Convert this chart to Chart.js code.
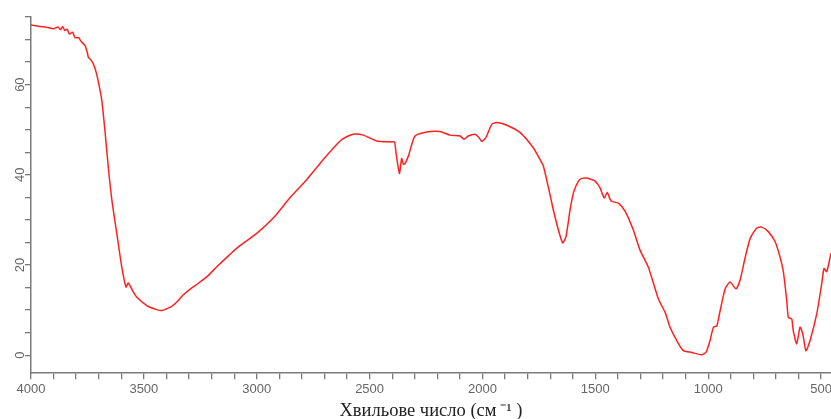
<!DOCTYPE html>
<html lang="uk">
<head>
<meta charset="UTF-8">
<title>ІЧ-спектр</title>
<script src="https://cdn.jsdelivr.net/npm/chart.js@4.4.1/dist/chart.umd.min.js"></script>
<style>
  body { margin: 0; background: #ffffff; }
  #grafico-ir { display: block; }
</style>
</head>
<body>
<canvas id="grafico-ir" width="831" height="419"></canvas>
<script>
//-------------------------- Дані --------------------------
const hvylovi = [
  4000, 3960, 3930, 3900, 3880, 3870, 3860, 3850, 3840, 3830, 3815, 3805, 3790, 3775, 3761, 3750,
  3746, 3735, 3724, 3710, 3700, 3687, 3672, 3658, 3642, 3620, 3598, 3579, 3569, 3550, 3532, 3487,
  3443, 3420, 3399, 3380, 3354, 3325, 3296, 3260, 3214, 3177, 3089, 3000, 2927, 2853, 2779, 2705,
  2631, 2600, 2572, 2528, 2468, 2410, 2390, 2383, 2368, 2358, 2350, 2343, 2328, 2299, 2247, 2188,
  2144, 2099, 2082, 2063, 2033, 2015, 2003, 1984, 1959, 1937, 1892, 1834, 1775, 1745, 1730, 1708,
  1686, 1664, 1650, 1644, 1630, 1612, 1597, 1575, 1560, 1538, 1520, 1501, 1479, 1461, 1447, 1435,
  1427, 1398, 1368, 1332, 1302, 1265, 1221, 1191, 1169, 1139, 1110, 1073, 1029, 1010, 992, 977,
  962, 947, 925, 903, 877, 859, 837, 814, 785, 763, 734, 704, 682, 667, 652, 645,
  630, 623, 608, 593, 581, 567, 549, 519, 497, 487, 475, 456
];

const propuskannia = [
  73.2, 72.9, 72.7, 72.4, 72.8, 72.2, 72.9, 72.0, 72.3, 71.2, 71.6, 70.4, 70.4, 69.4, 68.7, 67.0,
  66.1, 65.5, 64.6, 62.5, 60.2, 56.8, 49.6, 41.9, 34.5, 27.0, 19.6, 15.1, 16.0, 14.3, 12.9, 11.0,
  10.1, 9.9, 10.3, 10.7, 11.8, 13.4, 14.6, 15.9, 17.7, 19.6, 23.7, 27.0, 30.4, 34.9, 38.9, 43.4,
  47.5, 48.5, 49.0, 48.8, 47.5, 47.3, 47.3, 44.9, 40.3, 43.6, 42.3, 42.5, 44.2, 48.6, 49.5, 49.6,
  48.8, 48.6, 47.9, 48.6, 49.0, 48.2, 47.4, 48.3, 51.2, 51.6, 51.0, 49.4, 46.0, 43.4, 41.9, 37.2,
  32.2, 27.8, 25.5, 24.9, 26.3, 32.2, 36.0, 38.6, 39.2, 39.3, 39.0, 38.6, 37.1, 34.9, 36.1, 34.6,
  34.1, 33.7, 31.9, 27.8, 23.3, 19.5, 12.5, 9.5, 6.2, 3.2, 1.0, 0.6, 0.1, 0.6, 3.2, 6.2,
  6.5, 9.9, 14.7, 16.2, 14.7, 16.6, 21.5, 25.9, 28.2, 28.4, 27.4, 25.2, 21.8, 18.5, 12.1, 8.4,
  8.0, 5.4, 2.5, 6.2, 4.7, 1.0, 3.2, 9.2, 15.9, 19.2, 18.5, 22.6
];

// позначки на осях
const xTicks = [500, 600, 700, 800, 900, 1000, 1100, 1200, 1300, 1400, 1500, 1600, 1700, 1800, 1900,
  2000, 2100, 2200, 2300, 2400, 2500, 2600, 2700, 2800, 2900, 3000, 3100, 3200, 3300, 3400, 3500,
  3600, 3700, 3800, 3900, 4000];
const xLabels = [500, 1000, 1500, 2000, 2500, 3000, 3500, 4000];
const yTicks = [0, 5, 10, 15, 20, 25, 30, 35, 40, 45, 50, 55, 60, 65, 70, 75];
const yLabels = [0, 20, 40, 60];

const xTitle = "Хвильове число (см\u2009⁻¹ )";

//-------------------------- Графік --------------------------
function desenharEspectro() {
  const ctx = document.getElementById("grafico-ir").getContext("2d");
  const pontos = hvylovi.map((x, i) => ({ x: x, y: propuskannia[i] }));
  const cinza = "#7a7a7a";

  new Chart(ctx, {
    type: "line",
    data: {
      datasets: [
        {
          data: pontos,
          borderColor: "#ff2020",
          borderWidth: 1.5,
          pointRadius: 0,
          tension: 0.2,
          fill: false,
        },
      ],
    },
    options: {
      responsive: false,
      animation: false,
      layout: { padding: { left: 8, right: 0, top: 17, bottom: -3 } },
      plugins: { legend: { display: false }, tooltip: { enabled: false } },
      scales: {
        x: {
          type: "linear",
          reverse: true,
          min: 456,
          max: 4000,
          afterBuildTicks: (axis) => {
            axis.ticks = xTicks.map((v) => ({ value: v }));
          },
          grid: { drawOnChartArea: false, drawTicks: true, tickLength: 6, color: cinza, lineWidth: 1.3 },
          border: { display: true, color: cinza, width: 1.5 },
          ticks: {
            autoSkip: false,
            maxRotation: 0,
            color: "#666666",
            font: { family: "Arial, 'Liberation Sans'", size: 13 },
            padding: 2,
            callback: (v) => (xLabels.includes(v) ? String(v) : ""),
          },
          title: {
            display: true,
            text: xTitle,
            color: "#222222",
            font: { family: "'Liberation Serif', 'Times New Roman', serif", size: 18.5 },
            padding: { top: 1, bottom: 0 },
          },
        },
        y: {
          type: "linear",
          min: -4,
          max: 75,
          afterBuildTicks: (axis) => {
            axis.ticks = yTicks.map((v) => ({ value: v }));
          },
          afterFit: (axis) => {
            axis.width = 23;
          },
          grid: { drawOnChartArea: false, drawTicks: true, tickLength: 6, color: cinza, lineWidth: 1.3 },
          border: { display: true, color: cinza, width: 1.5 },
          ticks: {
            autoSkip: false,
            minRotation: 90,
            maxRotation: 90,
            crossAlign: "center",
            color: "#666666",
            font: { family: "Arial, 'Liberation Sans'", size: 13 },
            padding: -3,
            callback: (v) => (yLabels.includes(v) ? String(v) : ""),
          },
        },
      },
    },
  });
}

document.addEventListener("DOMContentLoaded", desenharEspectro);
</script>
</body>
</html>
